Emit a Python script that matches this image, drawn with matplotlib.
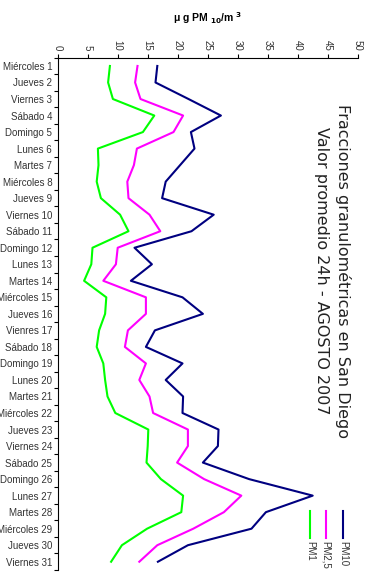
import matplotlib.pyplot as plt
from matplotlib.lines import Line2D

plt.rcParams['font.family'] = ['Liberation Sans', 'DejaVu Sans']

dias = ['Miércoles 1', 'Jueves 2', 'Viernes 3', 'Sábado 4', 'Domingo 5', 'Lunes 6',
        'Martes 7', 'Miércoles 8', 'Jueves 9', 'Viernes 10', 'Sábado 11', 'Domingo 12',
        'Lunes 13', 'Martes 14', 'Miércoles 15', 'Jueves 16', 'Vienres 17', 'Sábado 18',
        'Domingo 19', 'Lunes 20', 'Martes 21', 'Miércoles 22', 'Jueves 23', 'Viernes 24',
        'Sábado 25', 'Domingo 26', 'Lunes 27', 'Martes 28', 'Miércoles 29', 'Jueves 30',
        'Viernes 31']

pm10 = [16.6, 16.3, 21.8, 27.2, 22.2, 22.8, 20.4, 18.0, 17.4, 26.0, 22.3, 12.8, 15.7,
        12.2, 20.8, 24.2, 16.2, 14.7, 20.8, 18.0, 20.9, 20.8, 26.8, 26.7, 24.2, 31.9,
        42.5, 34.7, 32.3, 21.7, 16.7]
pm25 = [13.3, 12.9, 13.8, 20.9, 19.3, 13.2, 12.7, 11.6, 11.8, 15.3, 17.1, 10.0, 9.7,
        7.6, 14.7, 14.7, 11.7, 11.2, 14.7, 13.6, 15.3, 15.9, 21.7, 21.7, 19.9, 24.4,
        30.6, 27.7, 22.6, 16.6, 13.6]
pm1 = [8.7, 8.4, 9.2, 16.1, 14.2, 6.7, 6.8, 6.5, 7.2, 10.4, 11.8, 5.8, 5.6, 4.4, 8.1,
       7.9, 6.9, 6.5, 7.6, 7.9, 8.3, 9.6, 15.1, 15.0, 14.8, 17.2, 20.9, 20.6, 14.9,
       10.7, 8.9]

fig = plt.figure(figsize=(3.74, 5.81), dpi=100)
ax = fig.add_axes([57.7 / 374, 11 / 581, 300 / 374, 512.3 / 581])

y = list(range(len(dias)))
ax.plot(pm10, y, color='#000080', lw=1.5)
ax.plot(pm25, y, color='#FF00FF', lw=1.5)
ax.plot(pm1, y, color='#00FF00', lw=1.5)

ax.set_xlim(0, 50)
ax.set_ylim(len(dias) - 0.5, -0.5)

ax.xaxis.tick_top()
ax.set_xticks(range(0, 51, 5))
ax.tick_params(axis='x', direction='out', length=3, labelsize=7, labelcolor='#333333',
               labelrotation=270, pad=2)

ax.set_yticks([i - 0.5 for i in range(len(dias) + 1)])
ax.set_yticklabels([])
ax.set_yticks(y, minor=True)
ax.set_yticklabels(dias, minor=True)
ax.tick_params(axis='y', which='major', direction='out', length=3)
ax.tick_params(axis='y', which='minor', length=0, labelsize=7, labelcolor='#333333', pad=4)

for s in ['right', 'bottom']:
    ax.spines[s].set_visible(False)

fig.text(207 / 374, 1 - 18 / 581, 'μ g PM $_{\\mathbf{10}}$/m $^{\\mathbf{3}}$',
         ha='center', va='center', fontsize=7.5, fontweight='bold')

fig.text(343 / 374, 1 - 271 / 581, 'Fracciones granulométricas en San Diego',
         rotation=270, ha='center', va='center', fontsize=11.5, color='#222222',
         family='DejaVu Sans')
fig.text(322 / 374, 1 - 271 / 581, 'Valor promedio 24h - AGOSTO 2007',
         rotation=270, ha='center', va='center', fontsize=11.5, color='#222222',
         family='DejaVu Sans')

# leyenda vertical
for xp, col, lab in [(310, '#00FF00', 'PM1'), (326, '#FF00FF', 'PM2,5'), (343, '#000080', 'PM10')]:
    fig.add_artist(Line2D([xp / 374, xp / 374], [1 - 511 / 581, 1 - 538 / 581],
                          color=col, lw=1.5))
    fig.text(xp / 374, 1 - 541 / 581, lab, rotation=270, ha='center', va='top',
             fontsize=7, color='#333333')

fig.savefig('out.png', dpi=100)
